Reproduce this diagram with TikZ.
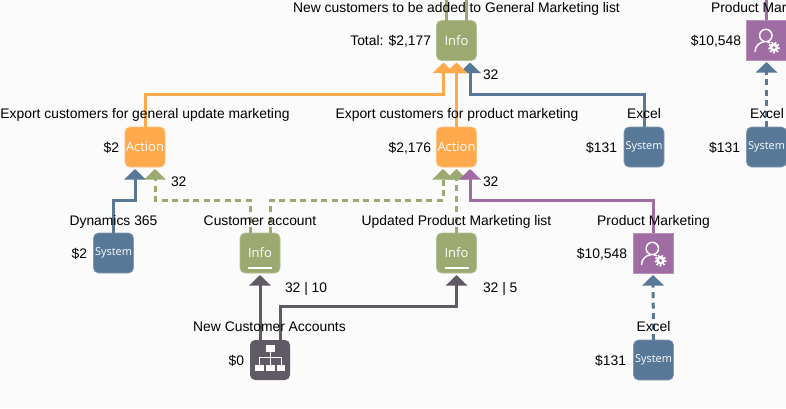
\documentclass[tikz,border=0pt]{standalone}
\usepackage{fontspec}
\setmainfont{Liberation Sans}
\newfontfamily\boxfont{Open Sans}
\usetikzlibrary{arrows.meta}
\def\px{0.75pt}
\definecolor{cgreen}{HTML}{9CAA72}
\definecolor{corange}{HTML}{FFA94D}
\definecolor{cblue}{HTML}{587898}
\definecolor{cpurple}{HTML}{A06CA4}
\definecolor{cdark}{HTML}{5F5A66}
\definecolor{cbg}{HTML}{FBFBFB}
\tikzset{
  x=0.75pt,y=-0.75pt,
  boxnode/.style={rectangle,rounded corners=3.75pt,minimum size=40*\px,inner sep=0pt,outer sep=0pt,text=white,font=\boxfont\fontsize{9.7pt}{11pt}\selectfont},
  infobox/.style={boxnode,fill=cgreen,draw=cgreen!75!white,line width=0.5pt},
  actionbox/.style={boxnode,fill=corange,draw=corange!75!white,line width=0.5pt},
  systembox/.style={boxnode,fill=cblue,draw=cblue!75!white,line width=0.5pt,font=\boxfont\fontsize{8.2pt}{10pt}\selectfont},
  purplebox/.style={boxnode,rounded corners=0pt,fill=cpurple,draw=cpurple!75!white,line width=0.5pt},
  darkbox/.style={boxnode,fill=cdark},
  lbl/.style={inner sep=0pt,outer sep=0pt,font=\fontsize{10.4pt}{12pt}\selectfont,text=black},
  ctrl/.style={lbl,anchor=base},
  rlbl/.style={lbl,anchor=base east},
  llbl/.style={lbl,anchor=base west},
  link/.style={line width=2.25pt,-{Triangle[width=16pt,length=8pt]},shorten >=2*\px},
  plain/.style={line width=2.25pt},
  dashline/.style={dash pattern=on 6*\px off 4.5*\px},
  glyph/.style={fill=white,draw=none},
  glyphline/.style={draw=white,line width=0.75pt},
}
\begin{document}
\begin{tikzpicture}
\clip (0,0) rectangle (786,408);
\fill[cbg] (0,0) rectangle (786,408);
% boxes (placed first so the connectors can name them)
\path
  node[infobox]   (infotop) at (456.5,40.5) {}
  node[actionbox] (acta)    at (145,147) {}
  node[actionbox] (actb)    at (456.5,147) {}
  node[systembox] (sysexa)  at (644,147) {}
  node[systembox] (sysdyn)  at (113.5,253) {}
  node[infobox]   (infoca)  at (260,253) {}
  node[infobox]   (infoup)  at (456.5,253) {}
  node[purplebox] (purple)  at (653,253) {}
  node[darkbox]   (dark)    at (270,360) {}
  node[systembox] (sysexb)  at (653.5,360) {}
  node[purplebox] (purpletr) at (766.5,40) {}
  node[systembox] (sysexc)  at (766.5,147) {};
\coordinate (freea) at (446.5,0);
\coordinate (freeb) at (466.5,0);
\coordinate (freec) at (766.5,0);
% connectors
\draw[plain,cgreen] ([xshift=-10*\px]infotop.north) -- (freea);
\draw[plain,cgreen] ([xshift=10*\px]infotop.north) -- (freeb);
\draw[plain,cpurple] (purpletr.north) -- (freec);
\draw[link,corange] (acta.north) -- (acta.north |- 0,94) -| ([xshift=-13*\px]infotop.south);
\draw[link,cblue] (sysexa.north) -- (sysexa.north |- 0,94) -| ([xshift=13.5*\px]infotop.south);
\draw[link,corange] (actb.north) -- (infotop.south);
\draw[link,cblue] (sysdyn.north) -- (sysdyn.north |- 0,200) -| ([xshift=-10*\px]acta.south);
\draw[link,cgreen,dashline] ([xshift=-10*\px]infoca.north) -- ([xshift=-10*\px]infoca.north |- 0,200) -| ([xshift=10*\px]acta.south);
\draw[link,cgreen,dashline] ([xshift=10*\px]infoca.north) -- ([xshift=10*\px]infoca.north |- 0,200) -| ([xshift=-13.5*\px]actb.south);
\draw[link,cgreen,dashline] (infoup.north) -- (actb.south);
\draw[link,cpurple] (purple.north) -- (purple.north |- 0,200) -| ([xshift=13.5*\px]actb.south);
\draw[link,cdark] ([xshift=-10*\px]dark.north) -- (infoca.south);
\draw[link,cdark] ([xshift=10*\px]dark.north) -- ([xshift=10*\px]dark.north |- 0,306.5) -| (infoup.south);
\draw[link,cblue,dashline] (sysexb.north) -- (purple.south);
\draw[link,cblue,dashline] (sysexc.north) -- (purpletr.south);
% box captions
\node[infobox,draw=none,fill=none] (tinfotop) at (456.5,40.5) {Info};
\node[actionbox,draw=none,fill=none] (tacta) at (145,147) {Action};
\node[actionbox,draw=none,fill=none] (tactb) at (456.5,147) {Action};
\node[systembox,draw=none,fill=none] (tsysa) at (644,147) {System};
\node[systembox,draw=none,fill=none] (tsysd) at (113.5,253) {System};
\node[infobox,draw=none,fill=none] (tinfoca) at (260,253) {Info};
\node[infobox,draw=none,fill=none] (tinfoup) at (456.5,253) {Info};
\node[systembox,draw=none,fill=none] (tsysb) at (653.5,360) {System};
\node[systembox,draw=none,fill=none] (tsysc) at (766.5,147) {System};
\draw[white,line width=1.5pt] (248,267.5) -- (272,267.5);
\draw[white,line width=1.5pt] (444.5,267.5) -- (468.5,267.5);
% org chart icon
\fill[glyph] (265.5,345) rectangle (274.5,351.5);
\fill[glyph] (255,364.5) rectangle (263.5,371);
\fill[glyph] (265.5,364.5) rectangle (274.5,371);
\fill[glyph] (276.5,364.5) rectangle (285,371);
\draw[glyphline] (270,351) -- (270,364.5) (259,364.5) -- (259,357.5) -- (281,357.5) -- (281,364.5);
% user with gear icons
\foreach \dx/\dy in {0/0,113.5/-213}{
  \begin{scope}[shift={(\dx,\dy)}]
    \draw[white,line width=1.1pt,line cap=round] (652.3,248.5) circle (6.2);
    \draw[white,line width=1.1pt,line cap=round] (641.5,264.5) .. controls (642,258.5) and (646,255.5) .. (650,255);
    \draw[white,line width=1.1pt] (654,255) -- (657,255.8);
    \fill[white] (660.5,260.5) circle (4.3);
    \draw[white,line width=1.6pt,dash pattern=on 1.2pt off 1.35pt] (660.5,260.5) circle (5);
    \fill[cpurple] (660.5,260.5) circle (1.7);
  \end{scope}
}
% labels
\node[ctrl] (l1) at (456.5,12) {New customers to be added to General Marketing list};
\node[rlbl] (l2) at (431,45) {Total: \$2,177};
\node[llbl] (l3) at (483,79) {32};
\node[ctrl] (l4) at (145,118) {Export customers for general update marketing};
\node[ctrl] (l5) at (457,118) {Export customers for product marketing};
\node[ctrl] (l6) at (644,118) {Excel};
\node[llbl] (l7) at (711,12) {Product Marketing};
\node[rlbl] (l8) at (741,45) {\$10,548};
\node[ctrl] (l9) at (767,118) {Excel};
\node[rlbl] (l10) at (740,152) {\$131};
\node[rlbl] (l11) at (119,152) {\$2};
\node[rlbl] (l12) at (431,152) {\$2,176};
\node[rlbl] (l13) at (617,152) {\$131};
\node[llbl] (l14) at (171,186) {32};
\node[llbl] (l15) at (483,186) {32};
\node[ctrl] (l16) at (113.5,225) {Dynamics 365};
\node[ctrl] (l17) at (260,225) {Customer account};
\node[ctrl] (l18) at (456.5,225) {Updated Product Marketing list};
\node[ctrl] (l19) at (653.5,225) {Product Marketing};
\node[rlbl] (l20) at (87,258) {\$2};
\node[rlbl] (l21) at (627,258) {\$10,548};
\node[llbl] (l22) at (285,292) {32 | 10};
\node[llbl] (l23) at (483,292) {32 | 5};
\node[ctrl] (l24) at (269.5,331) {New Customer Accounts};
\node[ctrl] (l25) at (653.5,331) {Excel};
\node[rlbl] (l26) at (244,365) {\$0};
\node[rlbl] (l27) at (626,365) {\$131};
\end{tikzpicture}
\end{document}
